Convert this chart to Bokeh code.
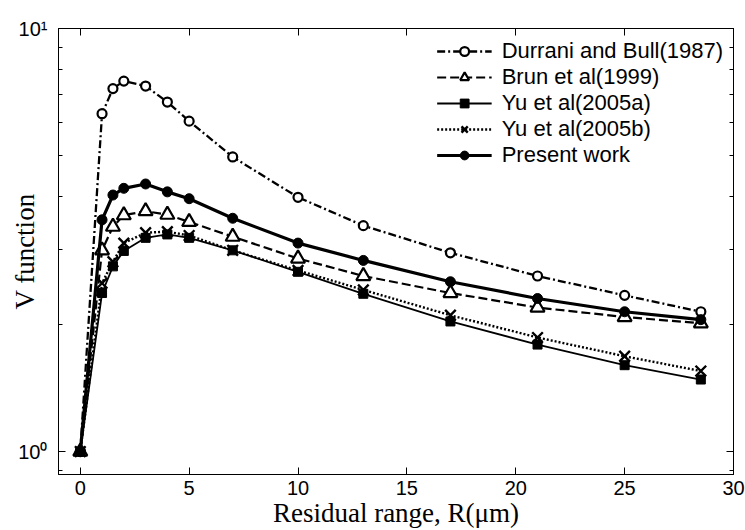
from bokeh.plotting import figure
from bokeh.models import (Range1d, FixedTicker, LinearAxis, LogAxis, Legend,
                          LegendItem, CustomJSTickFormatter)
from bokeh.embed import file_html
from bokeh.resources import INLINE

# ---- data ----
residual_range = [0, 1, 1.5, 2, 3, 4, 5, 7, 10, 13, 17, 21, 25, 28.5]
durrani_bull_1987 = [1, 6.29, 7.21, 7.51, 7.31, 6.70, 6.04, 4.97, 3.99, 3.42, 2.95, 2.60, 2.34, 2.14]
brun_1999 = [1, 2.99, 3.40, 3.62, 3.70, 3.63, 3.49, 3.22, 2.86, 2.60, 2.37, 2.19, 2.08, 2.01]
yu_2005a = [1, 2.37, 2.74, 2.98, 3.20, 3.26, 3.20, 2.99, 2.66, 2.36, 2.03, 1.79, 1.60, 1.48]
yu_2005b = [1, 2.50, 2.81, 3.11, 3.29, 3.31, 3.24, 2.99, 2.68, 2.41, 2.10, 1.86, 1.68, 1.55]
present_work = [1, 3.53, 4.04, 4.19, 4.29, 4.11, 3.96, 3.56, 3.11, 2.83, 2.52, 2.30, 2.14, 2.05]

series_names = ["Durrani and Bull(1987)", "Brun et al(1999)", "Yu et al(2005a)",
                "Yu et al(2005b)", "Present work"]
x_ticks = [0, 5, 10, 15, 20, 25, 30]
y_major = [1, 10]
y_minor = [0.9, 2, 3, 4, 5, 6, 7, 8, 9]
x_label = "Residual range, R(μm)"
y_label = "V function"

TICK_FONT = "Liberation Sans"
LABEL_FONT = "Liberation Serif"

p = figure(width=745, height=530, y_axis_type="log",
           x_range=Range1d(-1, 30), y_range=Range1d(0.8826, 10),
           output_backend="svg", toolbar_location=None,
           min_border_left=58, min_border_right=12,
           min_border_top=28, min_border_bottom=55)
p.xgrid.visible = False
p.ygrid.visible = False
p.outline_line_color = "black"
p.outline_line_width = 1
p.background_fill_color = "white"
p.border_fill_color = "white"


def style_axis(ax):
    ax.axis_line_color = "black"
    ax.axis_line_width = 1
    ax.major_tick_in = 7
    ax.major_tick_out = 0
    ax.minor_tick_in = 4
    ax.minor_tick_out = 0
    ax.major_tick_line_color = "black"
    ax.minor_tick_line_color = "black"
    ax.major_label_text_font = TICK_FONT
    ax.major_label_text_font_size = "20px"
    ax.major_label_text_color = "black"


blank = CustomJSTickFormatter(code="return '';")

# bottom axis
xa = p.xaxis[0]
xa.ticker = FixedTicker(ticks=x_ticks)
style_axis(xa)
xa.major_label_standoff = 6
xa.axis_label = x_label
xa.axis_label_text_font = LABEL_FONT
xa.axis_label_text_font_size = "27px"
xa.axis_label_text_font_style = "normal"
xa.axis_label_text_color = "black"
xa.axis_label_text_line_height = 1.0
xa.axis_label_standoff = 0

# left axis
ya = p.yaxis[0]
ya.ticker = FixedTicker(ticks=y_major, minor_ticks=y_minor)
ya.formatter = CustomJSTickFormatter(code="return tick < 5 ? '10\u2070' : '10\u00b9';")
style_axis(ya)
ya.major_label_standoff = 11
ya.axis_label = y_label
ya.axis_label_text_font = LABEL_FONT
ya.axis_label_text_font_size = "27px"
ya.axis_label_text_font_style = "normal"
ya.axis_label_text_color = "black"
ya.axis_label_standoff = -25

# mirrored axes (box with ticks)
top = LinearAxis(ticker=FixedTicker(ticks=x_ticks), formatter=blank)
style_axis(top)
p.add_layout(top, "above")
right = LogAxis(ticker=FixedTicker(ticks=y_major, minor_ticks=y_minor), formatter=blank)
style_axis(right)
p.add_layout(right, "right")

# ---- series ----
l1 = p.line(residual_range, durrani_bull_1987, line_color="black", line_width=2.3, line_dash="8 3 2 3")
s1 = p.scatter(residual_range, durrani_bull_1987, marker="circle", size=9,
               fill_color="white", line_color="black", line_width=2.2)
l2 = p.line(residual_range, brun_1999, line_color="black", line_width=2.2, line_dash="9 4")
s2 = p.scatter(residual_range, brun_1999, marker="triangle", size=14,
               fill_color="white", line_color="black", line_width=2.2)
l3 = p.line(residual_range, yu_2005a, line_color="black", line_width=1.8)
s3 = p.scatter(residual_range, yu_2005a, marker="square", size=9,
               fill_color="black", line_color="black", line_width=1)
l4 = p.line(residual_range, yu_2005b, line_color="black", line_width=2.4, line_dash="2 2")
s4 = p.scatter(residual_range, yu_2005b, marker="x", size=15,
               line_color="black", line_width=2.4)
l5 = p.line(residual_range, present_work, line_color="black", line_width=3.2)
s5 = p.scatter(residual_range, present_work, marker="circle", size=10,
               fill_color="black", line_color="black", line_width=1)

items = [LegendItem(label=series_names[0], renderers=[l1, s1]),
         LegendItem(label=series_names[1], renderers=[l2, s2]),
         LegendItem(label=series_names[2], renderers=[l3, s3]),
         LegendItem(label=series_names[3], renderers=[l4, s4]),
         LegendItem(label=series_names[4], renderers=[l5, s5])]
legend = Legend(items=items, location="top_right",
                border_line_alpha=0, background_fill_alpha=0,
                label_text_font=TICK_FONT, label_text_font_size="22px",
                label_text_color="black",
                glyph_width=55, glyph_height=22, label_height=25,
                spacing=0, padding=8, margin=2, label_standoff=10)
p.add_layout(legend)

open("out.html", "w").write(file_html(p, INLINE))
